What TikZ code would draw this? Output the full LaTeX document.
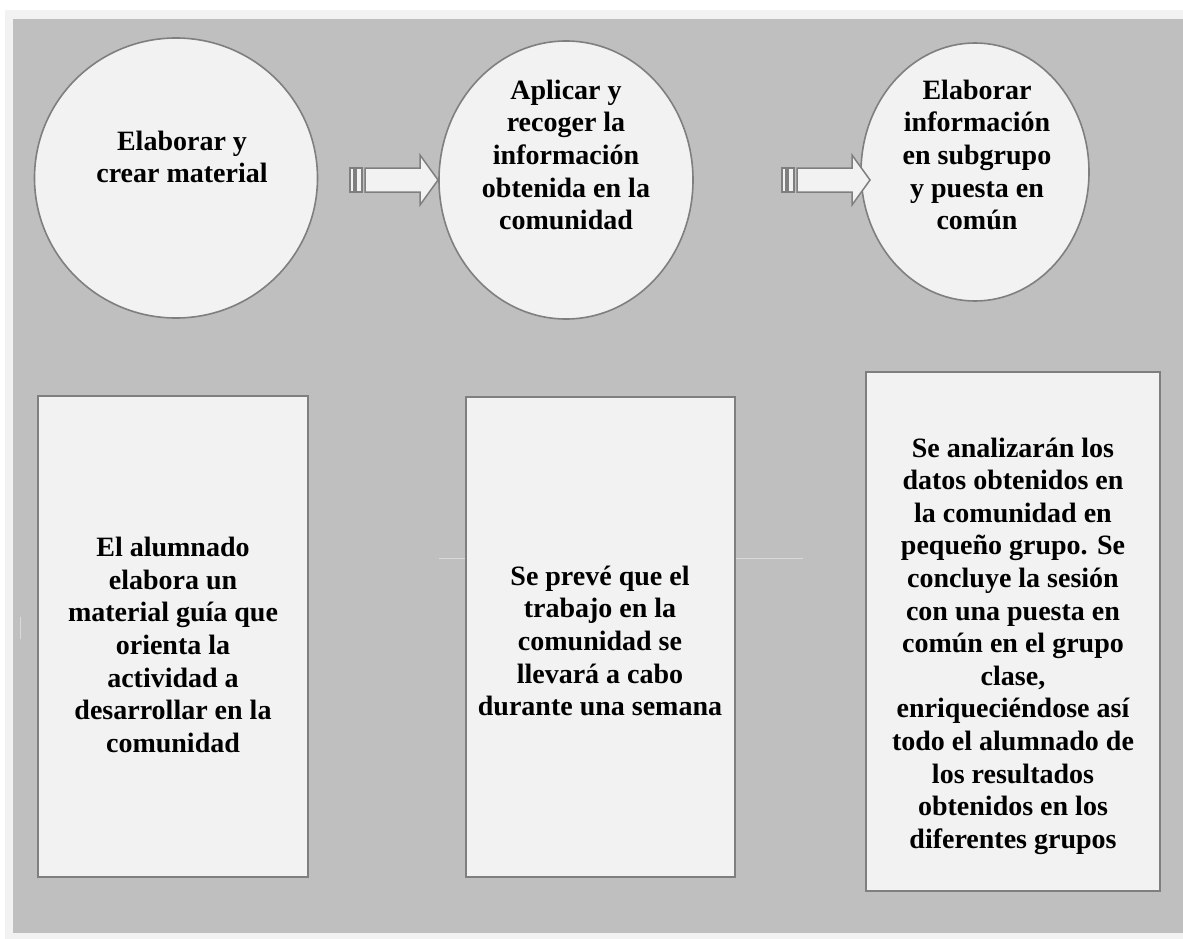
\documentclass[tikz,border=0pt]{standalone}
\usepackage{fontspec}
\setmainfont{Liberation Serif}
\usetikzlibrary{shapes.geometric}
\definecolor{bandgray}{HTML}{F2F2F2}
\definecolor{panelgray}{HTML}{BFBFBF}
\definecolor{shapefill}{HTML}{F2F2F2}
\definecolor{edgegray}{HTML}{7F7F7F}
\definecolor{faintline}{HTML}{D9D9D9}

\begin{document}
\begin{tikzpicture}[x=1pt,y=-1pt,
  stage/.style={ellipse, draw=edgegray, line width=1.6pt, fill=shapefill, inner sep=0pt},
  detail/.style={rectangle, draw=edgegray, line width=2.6pt, fill=shapefill, inner sep=0pt},
  label/.style={align=center, inner sep=0pt, font=\bfseries\fontsize{28}{32.6}\selectfont},
  blockarrow/.style={draw=edgegray, line width=1.5pt, fill=shapefill, line join=miter},
  faint/.style={draw=faintline, line width=1pt}]
\useasboundingbox (0,0) rectangle (1183,939);

% page band and grey panel
\fill[bandgray] (5,10) rectangle (1183,939);
\fill[panelgray] (13,19) rectangle (1183,933);

% the three stages
\node[stage, minimum width=283pt, minimum height=280pt] (e1) at (176,178) {};
\node[stage, minimum width=254pt, minimum height=278pt] (e2) at (566,180) {};
\node[stage, minimum width=228pt, minimum height=258pt] (e3) at (975,172) {};

\node[label] (t1) at (182,157) {Elaborar y\\crear material};
\node[label] (t2) at (566,155) {Aplicar y\\recoger la\\información\\obtenida en la\\comunidad};
\node[label] (t3) at (977,155) {Elaborar\\información\\en subgrupo\\y puesta en\\común};

% striped block arrows between the stages
\foreach \x in {350,782}{
  \filldraw[blockarrow] (\x,168) rectangle (\x+4,192);
  \filldraw[blockarrow] (\x+6,168) rectangle (\x+12,192);
  \filldraw[blockarrow] (\x+15,168) -- (\x+70,168) -- (\x+70,155) -- (\x+88,180)
     -- (\x+70,205) -- (\x+70,192) -- (\x+15,192) -- cycle;
}

% description boxes
\node[detail, minimum width=270pt, minimum height=481pt] (b1) at (173,636.5) {};
\node[detail, minimum width=269pt, minimum height=480pt] (b2) at (600.5,637) {};
\node[detail, minimum width=294pt, minimum height=519pt] (b3) at (1013,631.5) {};

\node[label] (d1) at (173,645) {El alumnado\\elabora un\\material guía que\\orienta la\\actividad a\\desarrollar en la\\comunidad};
\node[label] (d2) at (600,641) {Se prevé que el\\trabajo en la\\comunidad se\\llevará a cabo\\durante una semana};
\node[label] (d3) at (1013,646) {Se analizarán los\\datos obtenidos en\\la comunidad en\\pequeño grupo. Se\\concluye la sesión\\con una puesta en\\común en el grupo\\clase,\\enriqueciéndose así\\todo el alumnado de\\los resultados\\obtenidos en los\\diferentes grupos};

% faint guide strokes
\coordinate (g1) at (439,558);
\coordinate (g2) at (465,558);
\coordinate (g3) at (736,558);
\coordinate (g4) at (803,558);
\coordinate (g5) at (20,617);
\coordinate (g6) at (20,639);
\draw[faint] (g1) -- (g2);
\draw[faint] (g3) -- (g4);
\draw[faint] (g5) -- (g6);
\end{tikzpicture}
\end{document}
